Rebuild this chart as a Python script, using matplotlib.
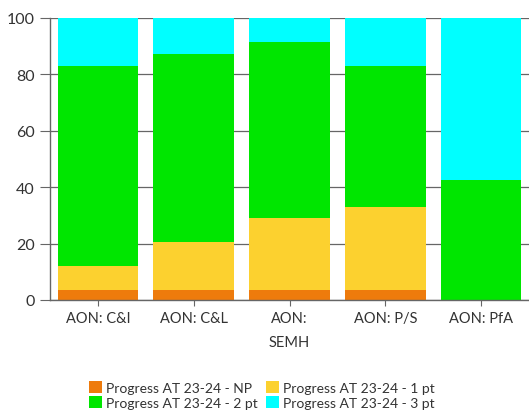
import matplotlib
matplotlib.use("Agg")
import matplotlib.pyplot as plt
import numpy as np

categories = ["AON: C&I", "AON: C&L", "AON:\nSEMH", "AON: P/S", "AON: PfA"]
series_names = ["Progress AT 23-24 - NP", "Progress AT 23-24 - 1 pt",
                "Progress AT 23-24 - 2 pt", "Progress AT 23-24 - 3 pt"]
np_vals = [3.7, 3.7, 3.7, 3.7, 0.0]
pt1_vals = [8.5, 17.0, 25.3, 29.4, 0.0]
pt2_vals = [70.7, 66.5, 62.4, 49.8, 42.6]
pt3_vals = [17.1, 12.8, 8.6, 17.1, 57.4]
colors = ["#EE7B0C", "#FCD12F", "#00E600", "#00FFFF"]
yticks = [0, 20, 40, 60, 80, 100]

plt.rcParams['font.family'] = ['Lato', 'DejaVu Sans']

fig = plt.figure(figsize=(5.29, 4.14), dpi=100)
ax = fig.add_axes([50/529, 1-301/414, 479/529, 282/414])

x = np.arange(len(categories))
bottom = np.zeros(len(categories))
handles = []
for vals, c, name in zip([np_vals, pt1_vals, pt2_vals, pt3_vals], colors, series_names):
    b = ax.bar(x, vals, width=0.84, bottom=bottom, color=c, label=name, zorder=2, linewidth=0)
    bottom += np.array(vals)
    handles.append(b)

ax.set_xlim(-0.5, len(categories) - 0.5)
ax.set_ylim(0, 100)
ax.set_yticks(yticks)
ax.set_yticklabels([str(v) for v in yticks])
ax.set_xticks(x)
ax.set_xticklabels(categories, linespacing=1.9)
ax.yaxis.grid(True, color="#666666", linewidth=0.9, zorder=0)
ax.set_axisbelow(True)
for s in ["top", "right"]:
    ax.spines[s].set_visible(False)
for s in ["left", "bottom"]:
    ax.spines[s].set_color("#666666")
    ax.spines[s].set_linewidth(1.0)
ax.tick_params(axis="y", length=7, color="#666666", labelsize=11.5, labelcolor="#333333", pad=4)
ax.tick_params(axis="x", length=4, color="#666666", labelsize=10.5, labelcolor="#333333", pad=4)

order = [0, 2, 1, 3]
fig.legend(handles=[handles[i] for i in order], labels=[series_names[i] for i in order],
           loc="center", bbox_to_anchor=(262/529, 1-396/414),
           ncol=2, frameon=False, fontsize=10, handlelength=0.9, handleheight=0.9,
           handletextpad=0.3, columnspacing=0.6, labelspacing=0.15, labelcolor="#333333")

fig.savefig("out.png", dpi=100)
